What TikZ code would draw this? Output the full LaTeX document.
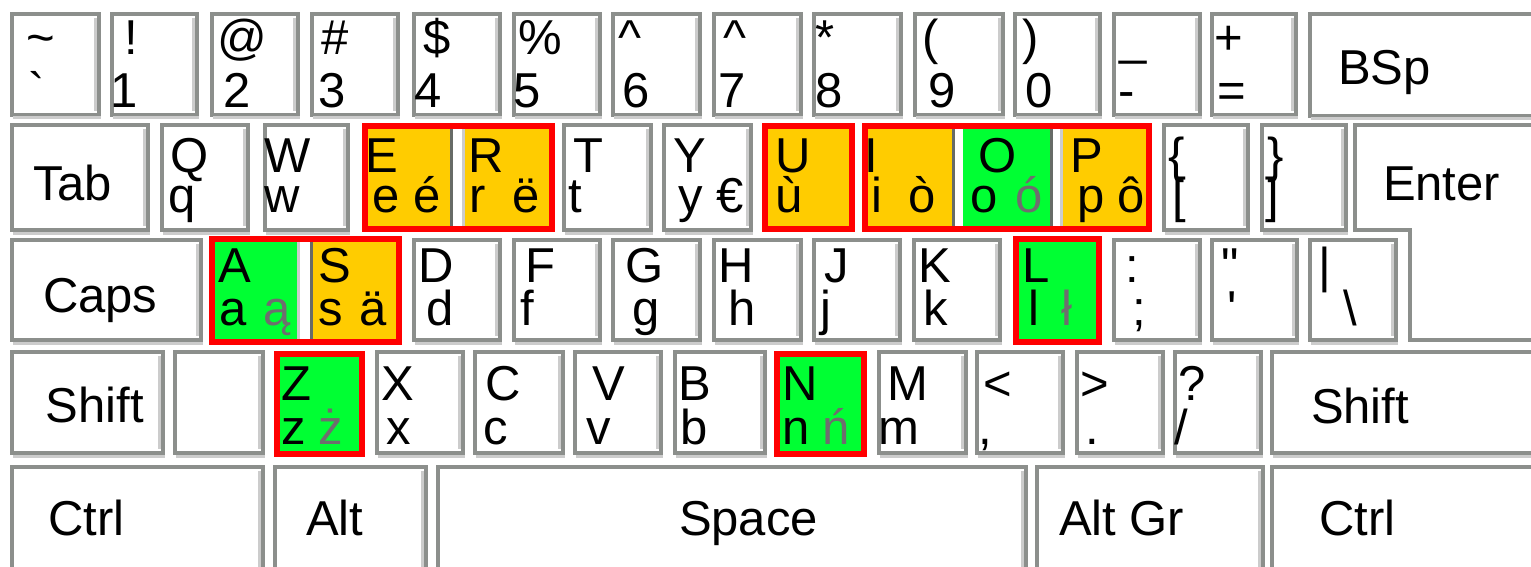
\documentclass[tikz,border=0pt]{standalone}
\usepackage{fontspec}
\setmainfont{Liberation Sans}
\definecolor{kgray}{HTML}{8C8F8C}
\definecolor{kdark}{HTML}{676B67}
\definecolor{klight}{HTML}{CCCCCC}
\definecolor{korange}{HTML}{FFCC00}
\definecolor{kgreen}{HTML}{00FF33}
\definecolor{kred}{HTML}{FF0000}
\definecolor{kalt}{HTML}{6E6E6E}
\newcommand\kbfont{\fontsize{24.5pt}{29pt}\selectfont}
\tikzset{
  kframe/.style={draw=kgray, line width=2pt, line join=miter},
  kshade/.style={draw=klight, line width=1.5pt},
  ksep/.style={draw=kdark, line width=1.5pt},
  redframe/.style={draw=kred, line width=3pt, line join=miter},
  lab/.style={anchor=base west, inner sep=0pt, outer sep=0pt, font=\kbfont, text=black, xshift=-1pt},
  altlab/.style={lab, text=kalt},
}
% plain key: x1 y1 x2 y2 (pixels)
\newcommand\kb[4]{%
  \fill[white] (#1,#2) rectangle (#3,#4);
  \draw[kframe] ({#1+2},{#2+2}) rectangle ({#3-2},{#4-2});
  \draw[kshade] ({#3-5.5},{#2+6}) -- ({#3-5.5},{#4-6});
  \draw[kshade] ({#1+3},{#4+1}) -- ({#3},{#4+1});
}
% single highlighted key
\newcommand\hk[5]{%
  \fill[#5] (#1,#2) rectangle (#3,#4);
  \draw[redframe] ({#1+3},{#2+3}) rectangle ({#3-3},{#4-3});
}
\begin{document}
\begin{tikzpicture}[x=0.5pt,y=-0.5pt]
\useasboundingbox (0,0) rectangle (1531,567);
\clip (0,0) rectangle (1531,567);
\fill[white] (0,0) rectangle (1531,567);

% ---------- row 1 ----------
\kb{10}{12}{101}{117}
\kb{110}{12}{199}{117}
\kb{210}{12}{300}{117}
\kb{310}{12}{400}{117}
\kb{412}{12}{502}{117}
\kb{512}{12}{602}{117}
\kb{611}{12}{702}{117}
\kb{712}{12}{803}{117}
\kb{812}{12}{903}{117}
\kb{913}{12}{1005}{117}
\kb{1013}{12}{1102}{117}
\kb{1112}{12}{1202}{117}
\kb{1210}{12}{1298}{117}
\kb{1308}{12}{1545}{118}

% ---------- row 2 ----------
\kb{10}{123}{150}{232}
\kb{160}{123}{250}{232}
\kb{263}{123}{350}{232}
% E R group
\fill[korange] (362,123) rectangle (555,232);
\fill[white] (450,129) rectangle (465,226);
\draw[ksep] (451.5,129) -- (451.5,226);
\draw[kshade] (463.5,129) -- (463.5,226);
\draw[redframe] (365,126) rectangle (552,229);
\kb{562}{123}{653}{232}
\kb{662}{123}{753}{232}
\hk{762}{123}{855}{232}{korange}
% I O P group
\fill[korange] (862,123) rectangle (1152,232);
\fill[kgreen] (963,123) rectangle (1050,232);
\fill[white] (952,129) rectangle (963,226);
\draw[ksep] (953.5,129) -- (953.5,226);
\fill[white] (1050,129) rectangle (1063,226);
\draw[ksep] (1051.5,129) -- (1051.5,226);
\draw[kshade] (1061.5,129) -- (1061.5,226);
\draw[redframe] (865,126) rectangle (1149,229);
\kb{1162}{123}{1250}{232}
\kb{1260}{123}{1348}{232}
% Enter
\fill[white] (1353,123) -- (1545,123) -- (1545,342) -- (1408,342) -- (1408,232) -- (1353,232) -- cycle;
\draw[kframe] (1355,125) -- (1545,125) -- (1545,340) -- (1410,340) -- (1410,230) -- (1355,230) -- cycle;

% ---------- row 3 ----------
\kb{10}{238}{203}{342}
% A S group
\fill[kgreen] (209,236) rectangle (305,345);
\fill[korange] (305,236) rectangle (402,345);
\fill[white] (297,242) rectangle (313,339);
\draw[kshade] (298.5,242) -- (298.5,339);
\draw[ksep] (311.5,242) -- (311.5,339);
\draw[redframe] (212,239) rectangle (399,342);
\kb{412}{238}{502}{342}
\kb{512}{238}{602}{342}
\kb{611}{238}{702}{342}
\kb{712}{238}{803}{342}
\kb{812}{238}{902}{342}
\kb{912}{238}{1002}{342}
\hk{1013}{236}{1102}{345}{kgreen}
\kb{1112}{238}{1202}{342}
\kb{1210}{238}{1299}{342}
\kb{1308}{238}{1398}{342}

% ---------- row 4 ----------
\kb{10}{350}{165}{455}
\kb{173}{350}{265}{455}
\hk{274}{351}{365}{457}{kgreen}
\kb{375}{350}{465}{455}
\kb{473}{350}{565}{455}
\kb{573}{350}{663}{455}
\kb{673}{350}{767}{455}
\hk{774}{351}{867}{457}{kgreen}
\kb{877}{350}{968}{455}
\kb{975}{350}{1065}{455}
\kb{1075}{350}{1165}{455}
\kb{1173}{350}{1263}{455}
\kb{1270}{350}{1545}{455}

% ---------- row 5 ----------
\kb{10}{465}{265}{580}
\kb{273}{465}{428}{580}
\kb{436}{465}{1028}{580}
\kb{1035}{465}{1265}{580}
\kb{1270}{465}{1545}{580}

% ---------- labels row 1 ----------
\node[lab] (k0u) at (28,55) {\textasciitilde};
\node[lab] (k0l) at (30,108) {\textasciigrave};
\node[lab] (k1u) at (126,55) {!};
\node[lab] (k1l) at (112,108) {1};
\node[lab] (k2u) at (219,55) {@};
\node[lab] (k2l) at (225,108) {2};
\node[lab] (k3u) at (323,55) {\#};
\node[lab] (k3l) at (320,108) {3};
\node[lab] (k4u) at (425,55) {\$};
\node[lab] (k4l) at (416,108) {4};
\node[lab] (k5u) at (520,55) {\%};
\node[lab] (k5l) at (515,108) {5};
\node[lab] (k6u) at (620,55) {\textasciicircum};
\node[lab] (k6l) at (624,108) {6};
\node[lab] (k7u) at (725,55) {\textasciicircum};
\node[lab] (k7l) at (720,108) {7};
\node[lab] (k8u) at (817,55) {*};
\node[lab] (k8l) at (817,108) {8};
\node[lab] (k9u) at (924,55) {(};
\node[lab] (k9l) at (930,108) {9};
\node[lab] (k10u) at (1024,55) {)};
\node[lab] (k10l) at (1027,108) {0};
\node[lab] (k11u) at (1121,55) {\_};
\node[lab] (k11l) at (1120,108) {-};
\node[lab] (k12u) at (1216,55) {+};
\node[lab] (k12l) at (1219,108) {=};
\node[lab] (bsp) at (1340,85) {BSp};

% ---------- labels row 2 ----------
\node[lab] (tab) at (35,200) {Tab};
\node[lab] (qu) at (172,172) {Q};
\node[lab] (ql) at (170,213) {q};
\node[lab] (wu) at (266,172) {W};
\node[lab] (wl) at (266,213) {w};
\node[lab] (eu) at (367,172) {E};
\node[lab] (el) at (374,213) {e};
\node[lab] (ea) at (415,213) {é};
\node[lab] (ru) at (470,172) {R};
\node[lab] (rl) at (471,213) {r};
\node[lab] (ra) at (514,213) {ë};
\node[lab] (tu) at (575,172) {T};
\node[lab] (tl) at (570,213) {t};
\node[lab] (yu) at (675,172) {Y};
\node[lab] (yl) at (680,213) {y};
\node[lab] (ya) at (718,213) {€};
\node[lab] (uu) at (777,172) {U};
\node[lab] (ul) at (777,213) {ù};
\node[lab] (iu) at (866,172) {I};
\node[lab] (il) at (873,213) {i};
\node[lab] (ia) at (910,213) {ò};
\node[lab] (ou) at (980,172) {O};
\node[lab] (ol) at (972,213) {o};
\node[altlab] (oa) at (1017,213) {ó};
\node[lab] (pu) at (1072,172) {P};
\node[lab] (pl) at (1079,213) {p};
\node[lab] (pa) at (1119,213) {ô};
\node[lab] (lbu) at (1170,172) {\{};
\node[lab] (lbl) at (1174,213) {[};
\node[lab] (rbu) at (1269,172) {\}};
\node[lab] (rbl) at (1267,213) {]};
\node[lab] (enter) at (1385,200) {Enter};

% ---------- labels row 3 ----------
\node[lab] (caps) at (45,312) {Caps};
\node[lab] (au) at (220,282) {A};
\node[lab] (al) at (221,325) {a};
\node[altlab] (aa) at (265,325) {ą};
\node[lab] (su) at (320,282) {S};
\node[lab] (sl) at (320,325) {s};
\node[lab] (sa) at (361,325) {ä};
\node[lab] (du) at (420,282) {D};
\node[lab] (dl) at (428,325) {d};
\node[lab] (fu) at (527,282) {F};
\node[lab] (fl) at (522,325) {f};
\node[lab] (gu) at (627,282) {G};
\node[lab] (gl) at (634,325) {g};
\node[lab] (hu) at (720,282) {H};
\node[lab] (hl) at (730,325) {h};
\node[lab] (ju) at (826,282) {J};
\node[lab] (jl) at (822,325) {j};
\node[lab] (ku) at (920,282) {K};
\node[lab] (kl) at (925,325) {k};
\node[lab] (lu) at (1024,282) {L};
\node[lab] (ll) at (1030,325) {l};
\node[altlab] (la) at (1063,325) {ł};
\node[lab] (scu) at (1127,282) {:};
\node[lab] (scl) at (1134,325) {;};
\node[lab] (qtu) at (1223,282) {\textquotedbl};
\node[lab] (qtl) at (1229,325) {\textquotesingle};
\node[lab] (bsu) at (1320,282) {|};
\node[lab] (bsl) at (1345,325) {\textbackslash};

% ---------- labels row 4 ----------
\node[lab] (lshift) at (48,422) {Shift};
\node[lab] (zu) at (283,400) {Z};
\node[lab] (zl) at (283,444) {z};
\node[altlab] (za) at (320,444) {ż};
\node[lab] (xu) at (383,400) {X};
\node[lab] (xl) at (388,444) {x};
\node[lab] (cu) at (487,400) {C};
\node[lab] (cl) at (485,444) {c};
\node[lab] (vu) at (594,400) {V};
\node[lab] (vl) at (588,444) {v};
\node[lab] (bu) at (680,400) {B};
\node[lab] (bl) at (682,444) {b};
\node[lab] (nu) at (784,400) {N};
\node[lab] (nl) at (784,444) {n};
\node[altlab] (na) at (824,444) {ń};
\node[lab] (mu) at (889,400) {M};
\node[lab] (ml) at (880,444) {m};
\node[lab] (ltu) at (985,400) {<};
\node[lab] (ltl) at (980,444) {,};
\node[lab] (gtu) at (1082,400) {>};
\node[lab] (gtl) at (1087,444) {.};
\node[lab] (slu) at (1180,400) {?};
\node[lab] (sll) at (1176,444) {/};
\node[lab] (rshift) at (1313,423) {Shift};

% ---------- labels row 5 ----------
\node[lab] (lctrl) at (50,535) {Ctrl};
\node[lab] (lalt) at (308,535) {Alt};
\node[lab] (space) at (681,535) {Space};
\node[lab] (altgr) at (1061,535) {Alt Gr};
\node[lab] (rctrl) at (1321,535) {Ctrl};
\end{tikzpicture}
\end{document}
